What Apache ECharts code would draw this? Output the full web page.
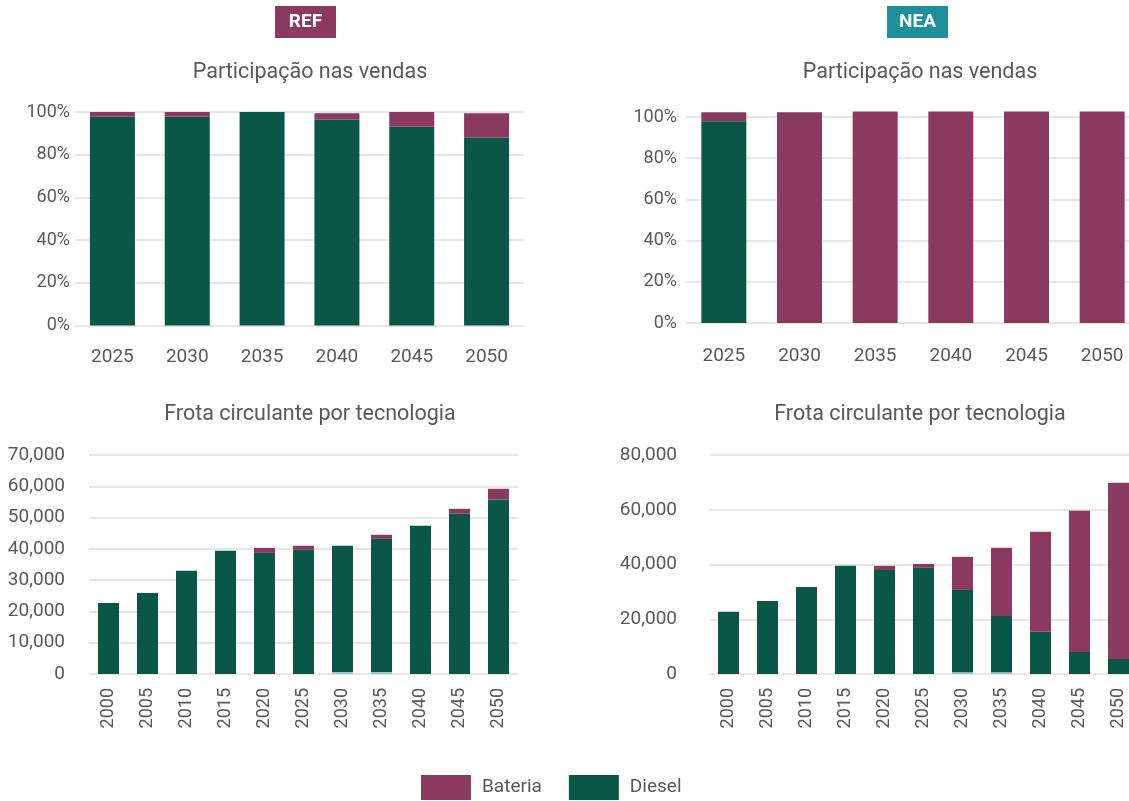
<!DOCTYPE html>
<html>
<head>
<meta charset="utf-8">
<script src="https://cdn.jsdelivr.net/npm/echarts@6/dist/echarts.min.js"></script>
<style>
  html, body { margin: 0; padding: 0; background: #fff; }
  #main { width: 1129px; height: 801px; }
</style>
</head>
<body>
<div id="main"></div>
<script>
// categorias
const anosVendas = ['2025', '2030', '2035', '2040', '2045', '2050']
const anosFrota = ['2000', '2005', '2010', '2015', '2020', '2025', '2030', '2035', '2040', '2045', '2050']

// REF - participação nas vendas (%)
const refVendasDiesel = [97.8, 97.8, 100, 96.5, 93.1, 88.1]
const refVendasBateria = [2.2, 2.2, 0, 2.9, 6.9, 11.3]

// NEA - participação nas vendas (%)
const neaVendasDiesel = [97.9, 0, 0, 0, 0, 0]
const neaVendasBateria = [4.4, 102.3, 102.7, 102.7, 102.7, 102.7]

// REF - frota circulante
const refFrotaOutros = [0, 0, 0, 0, 0, 0, 600, 600, 0, 0, 0]
const refFrotaDiesel = [22700, 25900, 33000, 39400, 38700, 39700, 40400, 42600, 47400, 51300, 55800]
const refFrotaBateria = [0, 0, 0, 0, 1600, 1300, 0, 1300, 0, 1500, 3400]

// NEA - frota circulante
const neaFrotaOutros = [0, 0, 0, 0, 0, 0, 600, 600, 0, 0, 0]
const neaFrotaDiesel = [22700, 26700, 31800, 39500, 38000, 38800, 30100, 20600, 15400, 8050, 5500]
const neaFrotaBateria = [0, 0, 0, 0, 1500, 1400, 12100, 24900, 36550, 51580, 64380]

const corBateria = '#8a3960'
const corDiesel = '#0a5647'
const corOutros = '#8ec6cf'
const corTexto = '#595959'
const fonte = 'Roboto, "Noto Sans", sans-serif'

const chart = echarts.init(document.getElementById('main'))

const gridLine = { show: true, lineStyle: { color: '#e6e6e6', width: 2 } }

const catAxis = (i, data, rotate, margin) => ({
    type: 'category',
    gridIndex: i,
    data: data,
    axisLine: { show: false },
    axisTick: { show: false },
    axisLabel: {
        color: corTexto,
        fontSize: rotate ? 18 : 19,
        fontFamily: fonte,
        rotate: rotate ? 90 : 0,
        margin: margin,
    },
})

const valAxis = (i, max, interval, fmt, margin, size) => ({
    type: 'value',
    gridIndex: i,
    min: 0,
    max: max,
    interval: interval,
    splitLine: gridLine,
    axisLine: { show: false },
    axisTick: { show: false },
    axisLabel: {
        color: corTexto,
        fontSize: size,
        fontFamily: fonte,
        margin: margin,
        formatter: fmt,
    },
})

const pct = (v) => v + '%'
const milhar = (v) => v.toLocaleString('en-US')

const barra = (name, i, data, color, stack, width) => ({
    name: name,
    type: 'bar',
    xAxisIndex: i,
    yAxisIndex: i,
    stack: stack,
    data: data,
    barWidth: width,
    clip: false,
    itemStyle: { color: color },
    emphasis: { disabled: true },
})

const titulo = (text, x, y) => ({
    text: text,
    left: x,
    top: y,
    padding: 0,
    textAlign: 'center',
    textStyle: { color: corTexto, fontSize: 21.5, fontWeight: 'normal', fontFamily: fonte },
})

const selo = (text, x, color) => ({
    type: 'group',
    left: x,
    top: 6,
    children: [
        { type: 'rect', shape: { x: 0, y: 0, width: 61, height: 32 }, style: { fill: color } },
        {
            type: 'text',
            x: 30.5,
            y: 16,
            style: {
                text: text,
                fill: '#fff',
                font: 'bold 19px ' + fonte,
                textAlign: 'center',
                textVerticalAlign: 'middle',
            },
        },
    ],
})

chart.setOption({
    animation: false,
    textStyle: { fontFamily: fonte },
    title: [
        titulo('Participação nas vendas', 310, 62),
        titulo('Participação nas vendas', 920, 62),
        titulo('Frota circulante por tecnologia', 310, 404),
        titulo('Frota circulante por tecnologia', 920, 404),
    ],
    graphic: [selo('REF', 275, corBateria), selo('NEA', 887, '#1e8f9b')],
    legend: {
        data: ['Bateria', 'Diesel'],
        left: 421,
        top: 775,
        padding: 0,
        icon: 'rect',
        itemWidth: 50,
        itemHeight: 25,
        itemGap: 27,
        textStyle: { color: corTexto, fontSize: 19, fontFamily: fonte, padding: [0, 0, 0, 6] },
    },
    grid: [
        { left: 75, top: 112, width: 449, height: 213.5, outerBoundsMode: 'none' },
        { left: 686, top: 117, width: 454, height: 206, outerBoundsMode: 'none' },
        { left: 89, top: 455, width: 429, height: 219, outerBoundsMode: 'none' },
        { left: 709, top: 455, width: 429, height: 219, outerBoundsMode: 'none' },
    ],
    xAxis: [
        catAxis(0, anosVendas, false, 22),
        catAxis(1, anosVendas, false, 24),
        catAxis(2, anosFrota, true, 14),
        catAxis(3, anosFrota, true, 14),
    ],
    yAxis: [
        valAxis(0, 100, 20, pct, 5, 18),
        valAxis(1, 100, 20, pct, 9, 18),
        valAxis(2, 70000, 10000, milhar, 24, 19),
        valAxis(3, 80000, 20000, milhar, 32, 19),
    ],
    series: [
        barra('Diesel', 0, refVendasDiesel, corDiesel, 'v0', 45),
        barra('Bateria', 0, refVendasBateria, corBateria, 'v0', 45),
        barra('Diesel', 1, neaVendasDiesel, corDiesel, 'v1', 45),
        barra('Bateria', 1, neaVendasBateria, corBateria, 'v1', 45),
        barra('Outros', 2, refFrotaOutros, corOutros, 'f2', 21),
        barra('Diesel', 2, refFrotaDiesel, corDiesel, 'f2', 21),
        barra('Bateria', 2, refFrotaBateria, corBateria, 'f2', 21),
        barra('Outros', 3, neaFrotaOutros, corOutros, 'f3', 21),
        barra('Diesel', 3, neaFrotaDiesel, corDiesel, 'f3', 21),
        barra('Bateria', 3, neaFrotaBateria, corBateria, 'f3', 21),
    ],
})
</script>
</body>
</html>
